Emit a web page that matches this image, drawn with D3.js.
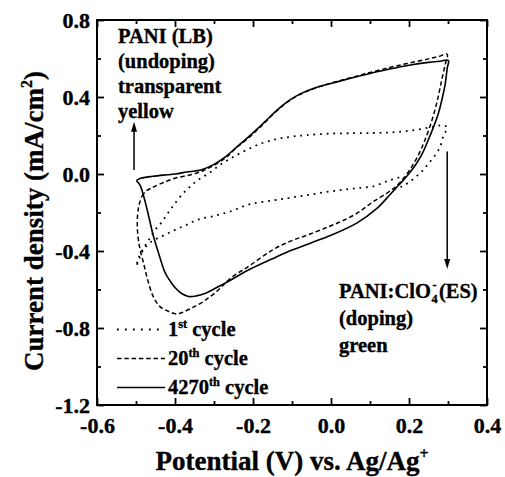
<!DOCTYPE html>
<html>
<head>
<meta charset="utf-8">
<script src="https://cdn.jsdelivr.net/npm/d3@7"></script>
<style>
  html, body { margin: 0; padding: 0; background: #fff; }
  svg { display: block; }
  text { font-family: "Liberation Serif", "Times New Roman", serif; font-weight: bold; fill: #000; stroke: #000; stroke-width: 0.35px; }
</style>
</head>
<body>
<svg id="chart" width="505" height="477"></svg>
<script>
// Axis ticks
const xTicksMajor = [-0.6, -0.4, -0.2, 0.0, 0.2, 0.4];
const xTicksMinor = [-0.5, -0.3, -0.1, 0.1, 0.3];
const yTicksMajor = [-1.2, -0.8, -0.4, 0.0, 0.4, 0.8];
const yTicksMinor = [-1.0, -0.6, -0.2, 0.2, 0.6];

// Cyclic voltammograms: [potential (V), current density (mA/cm^2)]
const cycle1 = [
  [0.175, -0.018], [0.147, -0.035], [0.108, -0.064], [0.065, -0.074], [0.023, -0.084],
  [-0.02, -0.096], [-0.062, -0.11], [-0.105, -0.123], [-0.148, -0.137], [-0.208, -0.157],
  [-0.259, -0.195], [-0.30, -0.218], [-0.34, -0.236], [-0.37, -0.264], [-0.40, -0.29],
  [-0.43, -0.32], [-0.46, -0.35], [-0.48, -0.39], [-0.492, -0.44], [-0.499, -0.48],
  [-0.494, -0.44], [-0.482, -0.39], [-0.468, -0.345], [-0.451, -0.29], [-0.434, -0.25],
  [-0.417, -0.20], [-0.40, -0.152], [-0.379, -0.10], [-0.36, -0.063], [-0.34, -0.03],
  [-0.31, 0.008], [-0.285, 0.047], [-0.258, 0.08], [-0.233, 0.108], [-0.205, 0.136],
  [-0.18, 0.158], [-0.155, 0.173], [-0.131, 0.185], [-0.10, 0.194], [-0.062, 0.202],
  [0.0, 0.21], [0.06, 0.212], [0.108, 0.213], [0.143, 0.215], [0.18, 0.22],
  [0.22, 0.23], [0.255, 0.243], [0.279, 0.252], [0.293, 0.25], [0.298, 0.24],
  [0.294, 0.22], [0.288, 0.195], [0.28, 0.142], [0.267, 0.097], [0.25, 0.054],
  [0.235, 0.018], [0.218, -0.014], [0.2, -0.043], [0.18, -0.066], [0.16, -0.08]
];

const cycle20 = [
  [-0.485, -0.115], [-0.475, -0.09], [-0.46, -0.072], [-0.434, -0.048], [-0.40, -0.022],
  [-0.357, -0.003], [-0.327, 0.018], [-0.30, 0.045], [-0.27, 0.085], [-0.242, 0.137],
  [-0.21, 0.19], [-0.182, 0.243], [-0.155, 0.297], [-0.131, 0.343], [-0.105, 0.383],
  [-0.08, 0.413], [-0.04, 0.447], [0.005, 0.475], [0.05, 0.5], [0.1, 0.527],
  [0.15, 0.553], [0.2, 0.576], [0.25, 0.598], [0.275, 0.61], [0.298, 0.622],
  [0.293, 0.57], [0.284, 0.49], [0.275, 0.403], [0.262, 0.30], [0.241, 0.177],
  [0.222, 0.09], [0.203, 0.025], [0.185, -0.025], [0.165, -0.068], [0.143, -0.10],
  [0.108, -0.144], [0.066, -0.205], [0.023, -0.249], [-0.02, -0.285], [-0.062, -0.318],
  [-0.105, -0.35], [-0.148, -0.392], [-0.208, -0.475], [-0.259, -0.544], [-0.293, -0.61],
  [-0.327, -0.662], [-0.353, -0.692], [-0.38, -0.718], [-0.396, -0.727], [-0.415, -0.715],
  [-0.438, -0.69], [-0.455, -0.64], [-0.47, -0.55], [-0.481, -0.46], [-0.49, -0.388],
  [-0.496, -0.30], [-0.496, -0.214], [-0.492, -0.16], [-0.485, -0.115]
];

const cycle4270 = [
  [-0.499, -0.035], [-0.49, -0.024], [-0.457, -0.012], [-0.42, -0.004], [-0.40, 0.0],
  [-0.37, 0.01], [-0.332, 0.022], [-0.30, 0.05], [-0.27, 0.09], [-0.242, 0.14],
  [-0.21, 0.195], [-0.182, 0.247], [-0.155, 0.30], [-0.131, 0.345], [-0.105, 0.385],
  [-0.08, 0.415], [-0.04, 0.448], [0.005, 0.473], [0.05, 0.497], [0.1, 0.522],
  [0.15, 0.545], [0.2, 0.565], [0.25, 0.58], [0.28, 0.586], [0.301, 0.59],
  [0.298, 0.55], [0.293, 0.47], [0.286, 0.40], [0.276, 0.32], [0.264, 0.25],
  [0.25, 0.18], [0.235, 0.11], [0.217, 0.048], [0.197, -0.005], [0.175, -0.055],
  [0.151, -0.108], [0.117, -0.18], [0.066, -0.255], [0.0, -0.318], [-0.05, -0.357],
  [-0.10, -0.395], [-0.15, -0.44], [-0.208, -0.495], [-0.259, -0.553], [-0.293, -0.59],
  [-0.32, -0.618], [-0.345, -0.633], [-0.366, -0.636], [-0.385, -0.618], [-0.40, -0.59],
  [-0.415, -0.548], [-0.426, -0.51], [-0.443, -0.405], [-0.456, -0.318], [-0.468, -0.214],
  [-0.481, -0.11], [-0.49, -0.057], [-0.499, -0.035]
];

const seriesNames = ["1", "20", "4270"];
const seriesSuffix = ["st", "th", "th"];

// Colour-change arrows: [x, yStart, yEnd] in data units
const arrowUp = [-0.505, 0.021, 0.272];
const arrowDown = [0.298, 0.117, -0.493];

const svg = d3.select("#chart");
const margin = { left: 97, right: 18, top: 20, bottom: 72 };
const W = 505, H = 477;

const x = d3.scaleLinear().domain([-0.6, 0.4]).range([margin.left, W - margin.right]);
const y = d3.scaleLinear().domain([-1.2, 0.8]).range([H - margin.bottom, margin.top]);

const fmt = d => d.toFixed(1);

// Axes with inward ticks on all four sides
function styleAxis(g) {
  g.select(".domain").remove();
  g.selectAll(".tick line").attr("stroke", "#000").attr("stroke-width", 1.8);
  g.selectAll("text").attr("font-family", '"Liberation Serif", "Times New Roman", serif')
    .attr("font-weight", "bold").attr("font-size", 22).attr("fill", "#000");
}

const y0 = y.range()[0], y1 = y.range()[1];
const x0 = x.range()[0], x1 = x.range()[1];

svg.append("g").attr("transform", `translate(0,${y0})`)
  .call(d3.axisBottom(x).tickValues(xTicksMajor).tickSize(-7).tickPadding(12).tickFormat(fmt))
  .call(styleAxis);
svg.append("g").attr("transform", `translate(0,${y0})`)
  .call(d3.axisBottom(x).tickValues(xTicksMinor).tickSize(-4).tickFormat(""))
  .call(styleAxis);
svg.append("g").attr("transform", `translate(0,${y1})`)
  .call(d3.axisTop(x).tickValues(xTicksMajor).tickSize(-7).tickFormat(""))
  .call(styleAxis);
svg.append("g").attr("transform", `translate(0,${y1})`)
  .call(d3.axisTop(x).tickValues(xTicksMinor).tickSize(-4).tickFormat(""))
  .call(styleAxis);

svg.append("g").attr("transform", `translate(${x0},0)`)
  .call(d3.axisLeft(y).tickValues(yTicksMajor).tickSize(-7).tickPadding(7).tickFormat(fmt))
  .call(styleAxis);
svg.append("g").attr("transform", `translate(${x0},0)`)
  .call(d3.axisLeft(y).tickValues(yTicksMinor).tickSize(-4).tickFormat(""))
  .call(styleAxis);
svg.append("g").attr("transform", `translate(${x1},0)`)
  .call(d3.axisRight(y).tickValues(yTicksMajor).tickSize(-7).tickFormat(""))
  .call(styleAxis);
svg.append("g").attr("transform", `translate(${x1},0)`)
  .call(d3.axisRight(y).tickValues(yTicksMinor).tickSize(-4).tickFormat(""))
  .call(styleAxis);

// Frame
svg.append("rect")
  .attr("x", x0).attr("y", y1)
  .attr("width", x1 - x0).attr("height", y0 - y1)
  .attr("fill", "none").attr("stroke", "#000").attr("stroke-width", 2);

// Curves
const line = d3.line().x(d => x(d[0])).y(d => y(d[1])).curve(d3.curveCatmullRom.alpha(0.5));
const styles = [
  { dash: "1.8,4.8", width: 1.8 },
  { dash: "4.5,2.8", width: 1.5 },
  { dash: null, width: 1.6 }
];
[cycle1, cycle20, cycle4270].forEach((data, i) => {
  svg.append("path")
    .datum(data)
    .attr("d", line)
    .attr("fill", "none")
    .attr("stroke", "#000")
    .attr("stroke-width", styles[i].width)
    .attr("stroke-dasharray", styles[i].dash);
});

// Arrows
function arrow(a) {
  const ax = x(a[0]), ys = y(a[1]), ye = y(a[2]);
  const dir = ye < ys ? -1 : 1;
  const headLen = 10, headHalf = 3;
  svg.append("line")
    .attr("x1", ax).attr("x2", ax)
    .attr("y1", ys).attr("y2", ye - dir * headLen * 0.8)
    .attr("stroke", "#000").attr("stroke-width", 1.5);
  svg.append("path")
    .attr("d", `M${ax},${ye} L${ax - headHalf},${ye - dir * headLen} L${ax + headHalf},${ye - dir * headLen} Z`)
    .attr("fill", "#000");
}
arrow(arrowUp);
arrow(arrowDown);

// Annotations
const annFont = 20.5;
const leftNote = ["PANI (LB)", "(undoping)", "transparent", "yellow"];
leftNote.forEach((t, i) => {
  svg.append("text").attr("x", 118).attr("y", 43 + i * 25)
    .attr("font-size", annFont).text(t);
});

// PANI:ClO4- (ES)
const esY = 298;
const es = svg.append("text").attr("x", 339).attr("y", esY).attr("font-size", annFont).text("PANI:ClO");
const esW = es.node().getComputedTextLength();
svg.append("text").attr("x", 339 + esW + 0.5).attr("y", esY + 5)
  .attr("font-size", annFont * 0.6).text("4");
svg.append("text").attr("x", 339 + esW + 1.5).attr("y", esY - 9)
  .attr("font-size", annFont * 0.6).text("-");
svg.append("text").attr("x", 339 + esW + 8).attr("y", esY)
  .attr("font-size", annFont).text("(ES)");
svg.append("text").attr("x", 339).attr("y", 325).attr("font-size", annFont).text("(doping)");
svg.append("text").attr("x", 339).attr("y", 352).attr("font-size", annFont).text("green");

// Legend
const legY = [329.5, 358.5, 387.5];
seriesNames.forEach((n, i) => {
  svg.append("line")
    .attr("x1", 117).attr("x2", i === 0 ? 160 : 165)
    .attr("y1", legY[i]).attr("y2", legY[i])
    .attr("stroke", "#000")
    .attr("stroke-width", styles[i].width)
    .attr("stroke-dasharray", i === 0 ? "1.8,6.2" : styles[i].dash);
  const t = svg.append("text").attr("x", 168).attr("y", legY[i] + 6).attr("font-size", annFont);
  t.append("tspan").text(n);
  t.append("tspan").attr("dy", -8).attr("font-size", annFont * 0.6).text(seriesSuffix[i]);
  t.append("tspan").attr("dy", 8).text(" cycle");
});

// Axis titles
const xt = svg.append("text")
  .attr("x", (x0 + x1) / 2).attr("y", 470)
  .attr("text-anchor", "middle").attr("font-size", 27);
xt.append("tspan").text("Potential (V) vs. Ag/Ag");
xt.append("tspan").attr("dy", -11).attr("font-size", 16).text("+");

const yt = svg.append("text")
  .attr("transform", `translate(43,221) rotate(-90)`)
  .attr("text-anchor", "middle").attr("font-size", 27);
yt.append("tspan").text("Current density (mA/cm");
yt.append("tspan").attr("dy", -11).attr("font-size", 16).text("2");
yt.append("tspan").attr("dy", 11).text(")");
</script>
</body>
</html>
